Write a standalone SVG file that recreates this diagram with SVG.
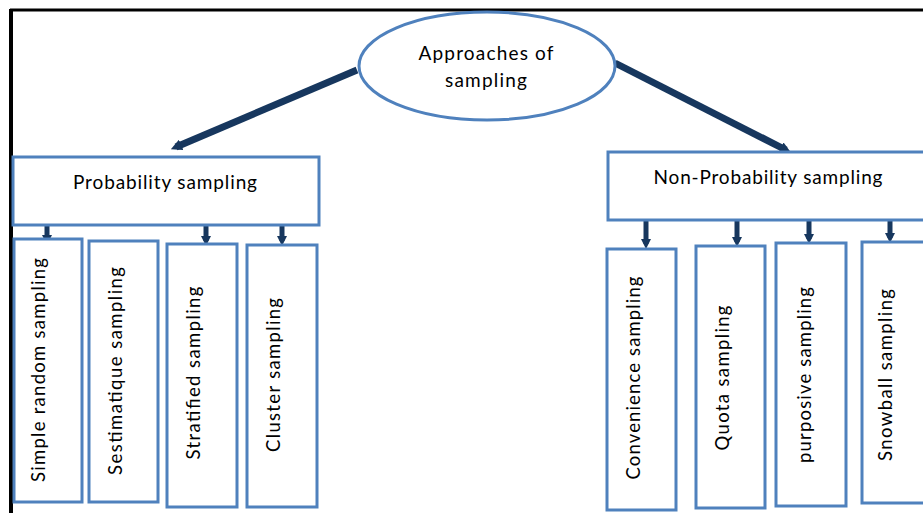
<svg xmlns="http://www.w3.org/2000/svg" width="923" height="513" viewBox="0 0 923 513">
<defs>
<style>
.box{fill:#fff;stroke:#4F81BD;stroke-width:3}
.t{font-family:Lato,"Open Sans","Liberation Sans",sans-serif;fill:#000;text-anchor:middle}
.h{font-size:19px}
.v{font-size:18.5px}
.big{stroke:#17375E;stroke-width:7;fill:none}
.sm{stroke:#17375E;stroke-width:5;fill:none}
</style>
<marker id="ah" viewBox="0 0 10 10" refX="5" refY="5" markerWidth="1.6" markerHeight="1.6" orient="auto" markerUnits="strokeWidth">
<path d="M0,0 L10,5 L0,10 z" fill="#17375E"/>
</marker>
<marker id="as" viewBox="0 0 10 10" refX="5" refY="5" markerWidth="2" markerHeight="2" orient="auto" markerUnits="strokeWidth">
<path d="M0,0 L10,5 L0,10 z" fill="#17375E"/>
</marker>
</defs>
<rect width="923" height="513" fill="#fff"/>
<g id="frame">
<line x1="10" y1="10" x2="923" y2="10" stroke="#000" stroke-width="3"/>
<line x1="11" y1="9" x2="11" y2="513" stroke="#000" stroke-width="4"/>
</g>
<g id="connectors">
<line class="big" x1="357" y1="70" x2="176" y2="147" marker-end="url(#ah)"/>
<line class="big" x1="615" y1="63" x2="786" y2="150" marker-end="url(#ah)"/>
<line class="sm" x1="47" y1="226" x2="47" y2="240" marker-end="url(#as)"/>
<line class="sm" x1="206" y1="226" x2="206" y2="241" marker-end="url(#as)"/>
<line class="sm" x1="282" y1="226" x2="282" y2="241" marker-end="url(#as)"/>
<line class="sm" x1="646" y1="221" x2="646" y2="244" marker-end="url(#as)"/>
<line class="sm" x1="737" y1="221" x2="737" y2="242" marker-end="url(#as)"/>
<line class="sm" x1="809" y1="221" x2="809" y2="239" marker-end="url(#as)"/>
<line class="sm" x1="890" y1="221" x2="890" y2="238" marker-end="url(#as)"/>
</g>
<g id="root">
<ellipse class="box" cx="487" cy="66" rx="128" ry="54"/>
<text class="t h" x="486" y="60" textLength="135" lengthAdjust="spacing">Approaches of</text>
<text class="t h" x="486" y="87" textLength="82" lengthAdjust="spacing">sampling</text>
</g>
<g id="probability">
<rect class="box" x="13" y="157" width="306" height="68"/>
<text class="t h" x="165" y="189" textLength="184" lengthAdjust="spacing">Probability sampling</text>
</g>
<g id="nonprobability">
<rect class="box" x="608" y="152" width="330" height="68"/>
<text class="t h" x="768" y="184" textLength="229" lengthAdjust="spacing">Non-Probability sampling</text>
</g>
<g id="simple">
<rect class="box" x="14" y="239" width="68" height="263"/>
<text class="t v" transform="translate(45,370) rotate(-90)" textLength="224" lengthAdjust="spacing">Simple random sampling</text>
</g>
<g id="sestimatique">
<rect class="box" x="89" y="241" width="69" height="261"/>
<text class="t v" transform="translate(122,371) rotate(-90)" textLength="208" lengthAdjust="spacing">Sestimatique sampling</text>
</g>
<g id="stratified">
<rect class="box" x="167" y="244" width="70" height="263"/>
<text class="t v" transform="translate(200,373) rotate(-90)" textLength="173" lengthAdjust="spacing">Stratified sampling</text>
</g>
<g id="cluster">
<rect class="box" x="247" y="245" width="70" height="262"/>
<text class="t v" transform="translate(280,375) rotate(-90)" textLength="154" lengthAdjust="spacing">Cluster sampling</text>
</g>
<g id="convenience">
<rect class="box" x="607" y="249" width="69" height="261"/>
<text class="t v" transform="translate(640,378) rotate(-90)" textLength="203" lengthAdjust="spacing">Convenience sampling</text>
</g>
<g id="quota">
<rect class="box" x="696" y="246" width="69" height="262"/>
<text class="t v" transform="translate(729,378) rotate(-90)" textLength="145" lengthAdjust="spacing">Quota sampling</text>
</g>
<g id="purposive">
<rect class="box" x="776" y="243" width="70" height="263"/>
<text class="t v" transform="translate(811,375) rotate(-90)" textLength="176" lengthAdjust="spacing">purposive sampling</text>
</g>
<g id="snowball">
<rect class="box" x="862" y="242" width="80" height="261"/>
<text class="t v" transform="translate(892,375) rotate(-90)" textLength="172" lengthAdjust="spacing">Snowball sampling</text>
</g>
</svg>
